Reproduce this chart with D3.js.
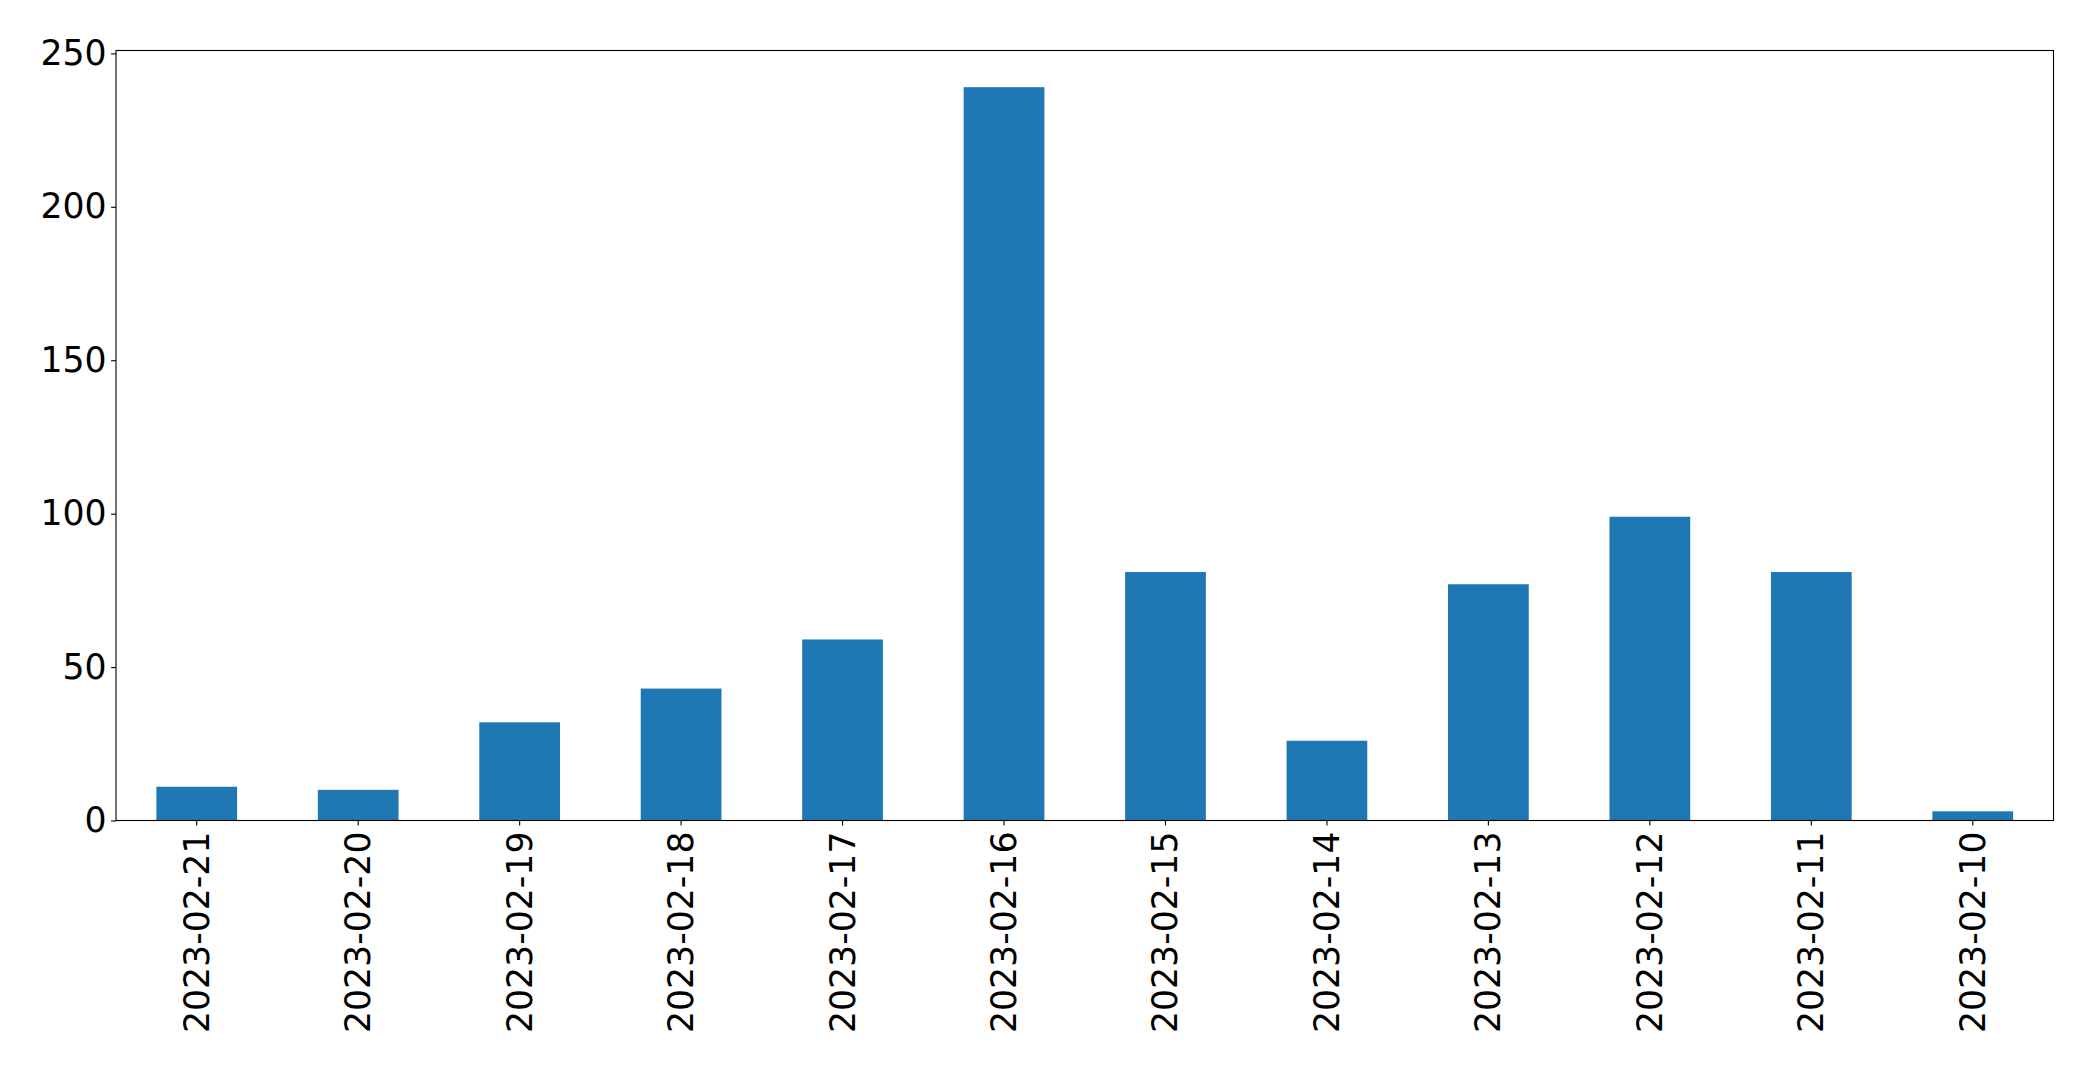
<!DOCTYPE html>
<html><head><meta charset="utf-8">
<script src="https://cdn.jsdelivr.net/npm/d3@7"></script>
<style>body{margin:0;background:#fff;} text{font-family:"DejaVu Sans",sans-serif;}</style>
</head><body>
<svg id="c" width="2093" height="1072"></svg>
<script>
const categories = ["2023-02-21","2023-02-20","2023-02-19","2023-02-18","2023-02-17","2023-02-16","2023-02-15","2023-02-14","2023-02-13","2023-02-12","2023-02-11","2023-02-10"];
const values = [11,10,32,43,59,239,81,26,77,99,81,3];
const yTicks = [0,50,100,150,200,250];

const svg = d3.select("#c");
const L = 116, R = 2053.5, T = 50.5, B = 820.5;
const fs = 34.7;

const x = d3.scaleBand().domain(categories).range([L, R]).paddingInner(0.5).paddingOuter(0.25);
const y = d3.scaleLinear().domain([0, d3.max(values) * 1.05]).range([B, T]);

svg.append("g").selectAll("rect").data(values).join("rect")
  .attr("x", (d, i) => x(categories[i]))
  .attr("width", x.bandwidth())
  .attr("y", d => y(d))
  .attr("height", d => B - y(d))
  .attr("fill", "#1f77b4");

// frame
svg.append("rect").attr("x", L).attr("y", T).attr("width", R - L).attr("height", B - T)
  .attr("fill", "none").attr("stroke", "#000").attr("stroke-width", 1.1);

// y axis
const ya = svg.append("g").attr("transform", `translate(${L},0)`)
  .call(d3.axisLeft(y).tickValues(yTicks).tickSize(4.9).tickPadding(4.5).tickFormat(d3.format("d")));
ya.select(".domain").remove();
ya.selectAll(".tick line").attr("stroke", "#000").attr("stroke-width", 1.1);
ya.selectAll(".tick text").attr("font-size", fs).attr("fill", "#000").attr("font-family", "DejaVu Sans");

// x axis
const xa = svg.append("g").attr("transform", `translate(0,${B})`)
  .call(d3.axisBottom(x).tickSize(4.9).tickPadding(0));
xa.select(".domain").remove();
xa.selectAll(".tick line").attr("stroke", "#000").attr("stroke-width", 1.1);
xa.selectAll(".tick text")
  .attr("font-size", fs).attr("fill", "#000").attr("font-family", "DejaVu Sans")
  .attr("text-anchor", "end")
  .attr("dy", null)
  .attr("dominant-baseline", "central")
  .attr("transform", "translate(0,11) rotate(-90)")
  .attr("x", 0).attr("y", 0);
</script>
</body></html>
